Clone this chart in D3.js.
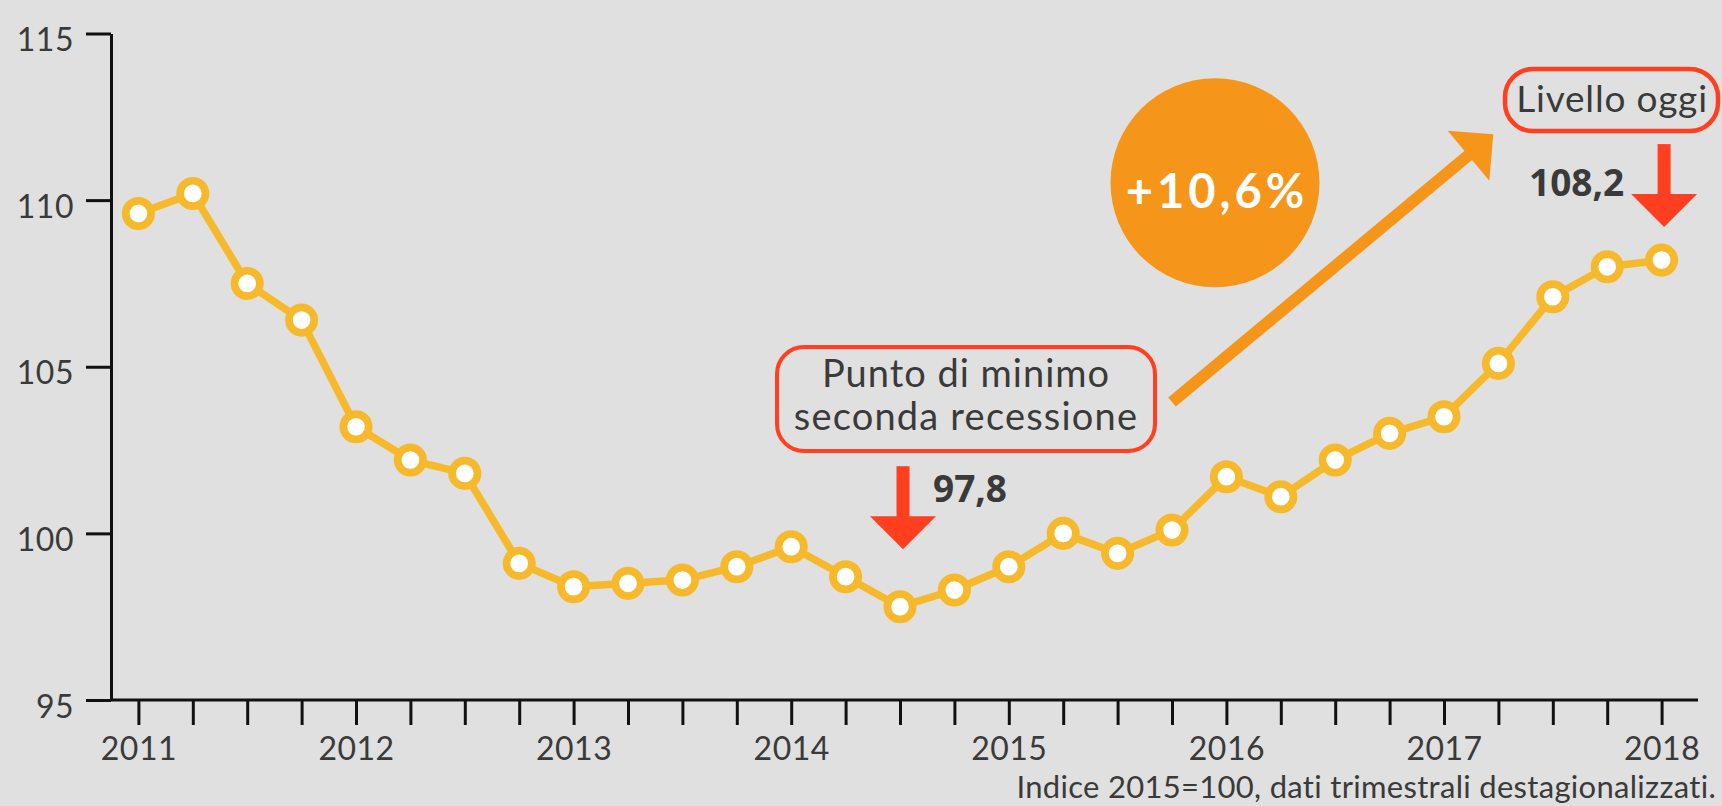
<!DOCTYPE html>
<html>
<head>
<meta charset="utf-8">
<script src="https://cdn.jsdelivr.net/npm/d3@7"></script>
<style>
  html, body { margin: 0; padding: 0; background: #e0e0e0; }
  svg { display: block; }
  text { font-family: Lato, "Open Sans", sans-serif; fill: #3a3a3a; }
</style>
</head>
<body>
<div id="chart"></div>
<script>
// Quarterly index, 2015=100 (seasonally adjusted)
const quarters = [
  "2011Q1","2011Q2","2011Q3","2011Q4",
  "2012Q1","2012Q2","2012Q3","2012Q4",
  "2013Q1","2013Q2","2013Q3","2013Q4",
  "2014Q1","2014Q2","2014Q3","2014Q4",
  "2015Q1","2015Q2","2015Q3","2015Q4",
  "2016Q1","2016Q2","2016Q3","2016Q4",
  "2017Q1","2017Q2","2017Q3","2017Q4",
  "2018Q1"
];
const values = [
  109.6, 110.2, 107.5, 106.4,
  103.2, 102.2, 101.8, 99.1,
  98.4, 98.5, 98.6, 99.0,
  99.6, 98.7, 97.8, 98.3,
  99.0, 100.0, 99.4, 100.1,
  101.7, 101.1, 102.2, 103.0,
  103.5, 105.1, 107.1, 108.0,
  108.2
];
const yTicks = [95, 100, 105, 110, 115];
const minQuarter = "2014Q3";
const lastQuarter = "2018Q1";
const minLabel = "97,8";
const lastLabel = "108,2";
const growthLabel = "+10,6%";
const footnote = "Indice 2015=100, dati trimestrali destagionalizzati.";

const W = 1722, H = 806;
const yellow = "#f7b92c", orange = "#f5961a", red = "#ff3f1f";

const data = quarters.map((q, i) => ({ q: q, v: values[i] }));

const svg = d3.select("#chart").append("svg")
  .attr("width", W).attr("height", H);

svg.append("rect").attr("width", W).attr("height", H).attr("fill", "#e0e0e0");

// scales
const x = d3.scalePoint().domain(quarters).range([138.4, 1661.6]);
const y = d3.scaleLinear().domain([95, 115]).range([700, 33.5]);

// X axis (one tick per quarter, year label on Q1)
const xAxis = svg.append("g")
  .attr("transform", "translate(0,700)")
  .call(d3.axisBottom(x).tickSize(25).tickSizeOuter(0)
    .tickFormat(d => d.endsWith("Q1") ? d.slice(0, 4) : ""));
xAxis.select(".domain").remove();
xAxis.append("line")
  .attr("x1", 111).attr("x2", 1698)
  .attr("stroke", "#111").attr("stroke-width", 3);
xAxis.selectAll(".tick line").attr("stroke", "#111").attr("stroke-width", 3);
xAxis.selectAll(".tick text")
  .attr("y", 60).attr("dy", 0)
  .style("font-family", "Lato, sans-serif")
  .style("font-size", "32px")
  .style("letter-spacing", "0.5px")
  .style("fill", "#3a3a3a");

// Y axis
const yAxis = svg.append("g")
  .attr("transform", "translate(111,0)")
  .call(d3.axisLeft(y).tickValues(yTicks).tickSize(25).tickSizeOuter(0));
yAxis.select(".domain").attr("stroke", "#111").attr("stroke-width", 3);
yAxis.selectAll(".tick line").attr("stroke", "#111").attr("stroke-width", 3);
yAxis.selectAll(".tick text")
  .attr("x", -37).attr("dy", 17)
  .style("font-family", "Lato, sans-serif")
  .style("font-size", "32px")
  .style("letter-spacing", "0.5px")
  .style("fill", "#3a3a3a");

// line + markers
svg.append("path")
  .datum(data)
  .attr("fill", "none")
  .attr("stroke", yellow)
  .attr("stroke-width", 7.5)
  .attr("stroke-linejoin", "round")
  .attr("d", d3.line().x(d => x(d.q)).y(d => y(d.v)));

svg.selectAll(".dot")
  .data(data)
  .enter().append("circle")
  .attr("class", "dot")
  .attr("cx", d => x(d.q))
  .attr("cy", d => y(d.v))
  .attr("r", 12.7)
  .attr("fill", "#fff")
  .attr("stroke", yellow)
  .attr("stroke-width", 7.7);

// red down arrow helper (tip at px,py)
function downArrow(px, py) {
  svg.append("rect")
    .attr("x", px - 6.5).attr("y", py - 83)
    .attr("width", 13).attr("height", 52)
    .attr("fill", red);
  svg.append("path")
    .attr("d", `M${px - 33},${py - 33} L${px + 33},${py - 33} L${px},${py} Z`)
    .attr("fill", red);
}

// minimum annotation
const minV = values[quarters.indexOf(minQuarter)];
const mx = x(minQuarter) + 3, my = y(minV) - 57.5;
downArrow(mx, my);
svg.append("text")
  .attr("x", mx + 30).attr("y", my - 47)
  .style("font-family", "'Open Sans', sans-serif")
  .style("font-weight", 700)
  .style("font-size", "37px")
  .text(minLabel);

svg.append("rect")
  .attr("x", 777).attr("y", 347)
  .attr("width", 378).attr("height", 104)
  .attr("rx", 27)
  .attr("fill", "none")
  .attr("stroke", red).attr("stroke-width", 4);
svg.append("text")
  .attr("x", 966).attr("y", 387)
  .attr("text-anchor", "middle")
  .style("font-size", "38px")
  .style("letter-spacing", "1px")
  .text("Punto di minimo");
svg.append("text")
  .attr("x", 966).attr("y", 430)
  .attr("text-anchor", "middle")
  .style("font-size", "38px")
  .style("letter-spacing", "1.2px")
  .text("seconda recessione");

// last value annotation
const lastV = values[quarters.indexOf(lastQuarter)];
const lx = x(lastQuarter) + 2.5, ly = y(lastV) - 33;
downArrow(lx, ly);
svg.append("text")
  .attr("x", 1529).attr("y", 196)
  .style("font-family", "'Open Sans', sans-serif")
  .style("font-weight", 700)
  .style("font-size", "37px")
  .text(lastLabel);

svg.append("rect")
  .attr("x", 1505).attr("y", 69)
  .attr("width", 213).attr("height", 62)
  .attr("rx", 28)
  .attr("fill", "none")
  .attr("stroke", red).attr("stroke-width", 4.5);
svg.append("text")
  .attr("x", 1612).attr("y", 112)
  .attr("text-anchor", "middle")
  .style("font-size", "37px")
  .style("letter-spacing", "0.8px")
  .text("Livello oggi");

// growth bubble
svg.append("circle")
  .attr("cx", 1215).attr("cy", 182.7).attr("r", 104.5)
  .attr("fill", orange);
svg.append("text")
  .attr("x", 1217).attr("y", 208)
  .attr("text-anchor", "middle")
  .style("font-weight", 700)
  .style("font-size", "47px")
  .style("letter-spacing", "4px")
  .style("fill", "#fff")
  .text(growthLabel);

// orange up arrow
svg.append("line")
  .attr("x1", 1172).attr("y1", 402)
  .attr("x2", 1470).attr("y2", 154)
  .attr("stroke", orange).attr("stroke-width", 12);
svg.append("path")
  .attr("d", "M1447.7,130.7 L1493.3,134.3 L1489.3,180.7 Z")
  .attr("fill", orange);

// footnote
svg.append("text")
  .attr("x", 1716).attr("y", 798)
  .attr("text-anchor", "end")
  .style("font-size", "31px")
  .style("letter-spacing", "0.3px")
  .text(footnote);
</script>
</body>
</html>
